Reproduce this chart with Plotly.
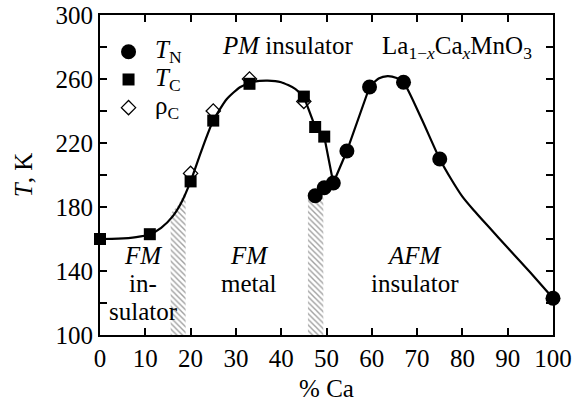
import plotly.graph_objects as go

# ---- data ----
tc_x = [0, 11, 20, 25, 33, 45, 47.5, 49.5]
tc_y = [160, 163, 196, 234, 257, 249, 230, 224]

tn_x = [47.5, 49.5, 51.5, 54.5, 59.5, 67, 75, 100]
tn_y = [187, 192, 195, 215, 255, 258, 210, 123]

rho_x = [20, 25, 33, 45]
rho_y = [201, 240, 260, 246]

# guide-to-the-eye curve in three pieces
curve1_x = [0, 4, 8, 11, 13.5, 16, 18, 20, 22.5, 25, 28, 31, 34, 37, 40, 43, 45]
curve1_y = [160, 160.2, 161.2, 163, 167, 174, 183, 196, 216, 234, 247.5, 255, 258.3, 259, 258, 254, 249]
curve2_x = [45, 47.5, 49.5, 51.5, 54.5, 59.5]
curve2_y = [249, 230, 224, 195, 215, 255]
curve3_x = [59.5, 61.5, 63.5, 65.5, 67, 71, 75, 77.5, 80, 82.5, 86, 90, 95, 100]
curve3_y = [255, 260.3, 261.8, 260.6, 258, 235, 210, 197.5, 186.5, 178, 167, 154.5, 139, 123]

# hatched two-phase regions
hatch1_x = [15.6, 15.6, 17.2, 18.9, 18.9, 15.6]
hatch1_y = [100, 176, 181, 190, 100, 100]
hatch2_x = [45.9, 45.9, 49.3, 49.3, 45.9]
hatch2_y = [100, 187, 187, 100, 100]

# hand-placed legend (marker position, label position)
legend_names = ["<i>T</i><sub>N</sub>", "<i>T</i><sub>C</sub>", "ρ<sub>C</sub>"]
legend_mx = [6.3, 6.3, 6.3]
legend_my = [277, 259.7, 242.1]
legend_tx = 11.6

x_ticks = [0, 10, 20, 30, 40, 50, 60, 70, 80, 90, 100]
y_ticks = [100, 140, 180, 220, 260, 300]
y_minor = [120, 160, 200, 240, 280]

FONT = "Liberation Serif"
FS = 25
fig = go.Figure()

for hx, hy in [(hatch1_x, hatch1_y), (hatch2_x, hatch2_y)]:
    fig.add_trace(go.Scatter(
        x=hx, y=hy, mode="lines", fill="toself", line=dict(width=0, color="rgba(0,0,0,0)"),
        fillcolor="rgba(0,0,0,0)",
        fillpattern=dict(shape="\\", fgcolor="#444444", bgcolor="white", size=4, solidity=0.35),
        showlegend=False, hoverinfo="skip"))

fig.add_trace(go.Scatter(x=curve1_x, y=curve1_y, mode="lines", line=dict(color="black", width=2.2, shape="spline", smoothing=0.6), showlegend=False))
fig.add_trace(go.Scatter(x=curve2_x, y=curve2_y, mode="lines", line=dict(color="black", width=2.2), showlegend=False))
fig.add_trace(go.Scatter(x=curve3_x, y=curve3_y, mode="lines", line=dict(color="black", width=2.2, shape="spline", smoothing=0.6), showlegend=False))

tn_marker = dict(symbol="circle", size=15, color="black")
tc_marker = dict(symbol="square", size=12, color="black")
rho_marker = dict(symbol="diamond-open", size=11, color="black", line=dict(width=1.3))

fig.add_trace(go.Scatter(x=tn_x, y=tn_y, mode="markers", name="T_N", cliponaxis=False, marker=tn_marker, showlegend=False))
fig.add_trace(go.Scatter(x=rho_x, y=rho_y, mode="markers", name="rho_C", cliponaxis=False, marker=rho_marker, showlegend=False))
fig.add_trace(go.Scatter(x=tc_x, y=tc_y, mode="markers", name="T_C", cliponaxis=False, marker=tc_marker, showlegend=False))

# legend markers
for mx, my, mk in zip(legend_mx, legend_my, [tn_marker, tc_marker, rho_marker]):
    fig.add_trace(go.Scatter(x=[mx], y=[my], mode="markers", marker=mk, showlegend=False, hoverinfo="skip"))
for my, name in zip(legend_my, legend_names):
    fig.add_annotation(x=legend_tx, y=my, text=name, showarrow=False, xanchor="left", yanchor="middle",
                       font=dict(family=FONT, size=FS, color="black"))

ann_font = dict(family=FONT, size=FS, color="black")
texts = [
    (9.6, 149.5, "<i>FM</i>"), (9.6, 132.5, "in-"), (9.6, 114.5, "sulator"),
    (32.9, 149.5, "<i>FM</i>"), (32.9, 132.5, "metal"),
    (69.5, 149.5, "<i>AFM</i>"), (69.5, 132.5, "insulator"),
    (41.5, 281, "<i>PM</i> insulator"),
    (78.8, 280, "La<sub>1−<i>x</i></sub>Ca<sub><i>x</i></sub>MnO<sub>3</sub>"),
]
for x, y, t in texts:
    fig.add_annotation(x=x, y=y, text=t, showarrow=False, font=ann_font, xanchor="center", yanchor="middle",
                       borderpad=0)

axis_common = dict(showline=True, linecolor="black", linewidth=2, mirror="ticks", ticks="inside",
                   ticklen=7, tickwidth=1.5, tickcolor="black", showgrid=False, zeroline=False,
                   automargin=False, tickfont=dict(family=FONT, size=FS, color="black"))
fig.update_xaxes(range=[0, 100], tickvals=x_ticks, ticklabelstandoff=0,
                 title=dict(text="% Ca", font=dict(family=FONT, size=FS, color="black"), standoff=8),
                 **axis_common)
fig.update_yaxes(range=[100, 300], tickvals=y_ticks, ticklabelstandoff=0,
                 title=dict(text="<i>T</i>, K", font=dict(family=FONT, size=FS, color="black"), standoff=16),
                 minor=dict(tickvals=y_minor, ticks="inside", ticklen=7, tickwidth=1.5, tickcolor="black"),
                 **axis_common)

fig.update_layout(
    width=580, height=402, margin=dict(l=100, r=27, t=15, b=67, autoexpand=False),
    plot_bgcolor="white", paper_bgcolor="white",
    font=dict(family=FONT, size=FS, color="black"),
    showlegend=False,
)
fig.write_html("out.html")
